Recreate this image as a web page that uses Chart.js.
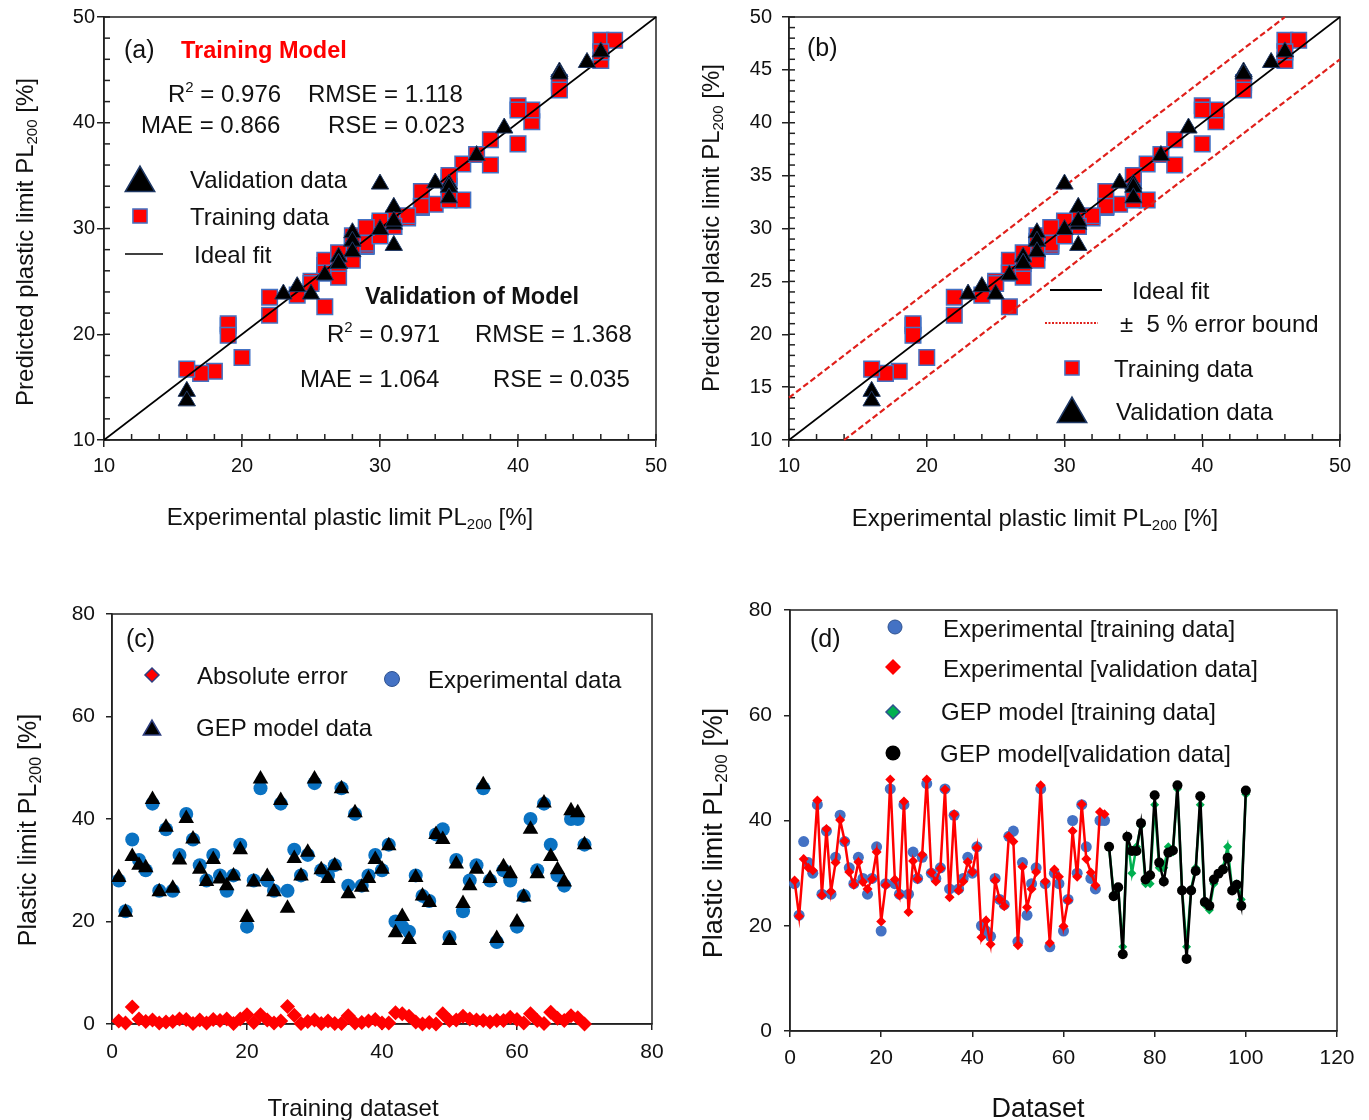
<!DOCTYPE html>
<html>
<head>
<meta charset="utf-8">
<title>Plastic limit PL200 – GEP model</title>
<script src="https://cdn.jsdelivr.net/npm/chart.js@4.4.1/dist/chart.umd.min.js"></script>
<style>
  html, body { margin: 0; padding: 0; background: #fff; }
  #wrap { position: relative; width: 1369px; height: 1120px; overflow: hidden; }
  #wrap canvas { position: absolute; left: 0; top: 0; }
</style>
</head>
<body>
<div id="wrap">
  <canvas id="panelA" width="1369" height="1120"></canvas>
  <canvas id="panelB" width="1369" height="1120"></canvas>
  <canvas id="panelC" width="1369" height="1120"></canvas>
  <canvas id="panelD" width="1369" height="1120"></canvas>
</div>
<script>
// ---- Data: plastic limit PL200 [%] ----
// Training samples 1–70: experimental value and GEP prediction
const trainExp = [28, 22, 36, 32, 30, 43, 26, 38, 26, 33,
                  41, 36, 31, 28, 33, 29, 26, 29, 35, 19,
                  28, 46, 28, 26, 43, 26, 34, 29, 33, 47,
                  30, 29, 31, 46, 27, 41, 27, 29, 33, 30,
                  35, 20, 19, 18, 29, 25, 24, 37, 38, 17,
                  32, 22, 28, 31, 46, 28, 16, 30, 28, 19,
                  25, 40, 30, 43, 35, 29, 27, 40, 40, 35];
const trainGep = [28.6, 21.8, 32.7, 31.0, 30.5, 43.8, 25.8, 38.4, 26.5, 32.0,
                  40.1, 36.1, 30.2, 27.8, 32.1, 28.3, 27.0, 28.9, 34.0, 20.8,
                  27.7, 47.8, 28.8, 25.8, 43.6, 22.6, 32.3, 28.9, 33.5, 47.8,
                  30.1, 28.4, 30.9, 45.9, 25.4, 41.2, 26.7, 28.4, 32.1, 30.2,
                  34.8, 17.8, 21.0, 16.5, 28.6, 25.0, 23.7, 37.0, 36.0, 16.3,
                  31.2, 23.5, 27.0, 30.2, 46.7, 28.4, 16.7, 30.7, 29.3, 19.9,
                  24.8, 38.0, 29.3, 43.1, 32.7, 30.1, 27.7, 41.6, 41.2, 35.0];
const trainAbsErr = [0.6, 0.2, 3.3, 1.0, 0.5, 0.8, 0.2, 0.4, 0.5, 1.0,
                     0.9, 0.1, 0.8, 0.2, 0.9, 0.7, 1.0, 0.1, 1.0, 1.8,
                     0.3, 1.8, 0.8, 0.2, 0.6, 3.4, 1.7, 0.1, 0.5, 0.8,
                     0.1, 0.6, 0.1, 0.1, 1.6, 0.2, 0.3, 0.6, 0.9, 0.2,
                     0.2, 2.2, 2.0, 1.5, 0.4, 0.0, 0.3, 0.0, 2.0, 0.7,
                     0.8, 1.5, 1.0, 0.8, 0.7, 0.4, 0.7, 0.7, 1.3, 0.9,
                     0.2, 2.0, 0.7, 0.1, 2.3, 1.1, 0.7, 1.6, 1.2, 0.0];
// Validation samples 71–100
const validExp = [26, 27, 16, 37, 30, 35, 39, 28, 28, 43,
                  31, 31, 35, 34, 46, 27, 16, 27, 31, 43,
                  24, 23, 28, 30, 31, 35, 27, 28, 25, 45];
const validGep = [25.6, 27.3, 14.6, 36.9, 34.2, 34.2, 39.5, 28.8, 29.6, 44.8,
                  32.0, 28.4, 33.9, 34.3, 46.7, 26.7, 13.7, 26.7, 30.4, 44.6,
                  24.5, 23.8, 28.8, 29.9, 30.7, 32.9, 26.7, 27.8, 23.8, 45.7];
// Reference lines (data units): ideal fit y = x, error band offset
const fitRange = [10, 50];
const bandOffset = 4;
// Axis ranges / tick steps
const axisAB = { min: 10, max: 50 };
const axisC = { xMax: 80, yMax: 80, step: 20 };
const axisD = { xMax: 120, yMax: 80, step: 20 };

// ---- Helpers ----
const FONT = '"Liberation Sans", Arial, Helvetica, sans-serif';
Chart.defaults.font.family = FONT;
Chart.defaults.color = '#111';

const pts = (xs, ys) => xs.map((x, i) => ({ x: x, y: ys[i] }));
const seq = (from, n) => Array.from({ length: n }, (_, i) => from + i);

const trainPts = pts(trainExp, trainGep);
const validPts = pts(validExp, validGep);
const fitPts = pts(fitRange, fitRange);
const upperBand = pts([fitRange[0], fitRange[1] - bandOffset], [fitRange[0] + bandOffset, fitRange[1]]);
const lowerBand = pts([fitRange[0] + bandOffset, fitRange[1]], [fitRange[0], fitRange[1] - bandOffset]);

function drawMarker(ctx, m) {
  const x = m.x, y = m.y, r = m.r;
  ctx.save();
  ctx.beginPath();
  if (m.style === 'circle') {
    ctx.arc(x, y, r, 0, Math.PI * 2);
  } else if (m.style === 'rect') {
    const s = r * Math.SQRT1_2;
    ctx.rect(x - s, y - s, 2 * s, 2 * s);
  } else if (m.style === 'triangle') {
    const a = 2 * Math.PI / 3;
    ctx.moveTo(x, y - r);
    ctx.lineTo(x + Math.sin(a) * r, y - Math.cos(a) * r);
    ctx.lineTo(x + Math.sin(2 * a) * r, y - Math.cos(2 * a) * r);
    ctx.closePath();
  } else if (m.style === 'rectRot') {
    ctx.moveTo(x, y - r); ctx.lineTo(x + r, y); ctx.lineTo(x, y + r); ctx.lineTo(x - r, y);
    ctx.closePath();
  } else if (m.style === 'line') {
    ctx.moveTo(m.x, y); ctx.lineTo(m.x2, y);
  }
  if (m.fill && m.style !== 'line') { ctx.fillStyle = m.fill; ctx.fill(); }
  if (m.stroke) {
    ctx.strokeStyle = m.stroke;
    ctx.lineWidth = m.lw || 1;
    if (m.dash) ctx.setLineDash(m.dash);
    ctx.stroke();
  }
  ctx.restore();
}

// parts: [[text, 'sub'|'sup'|undefined], ...]
function drawRich(ctx, t) {
  const size = t.size || 24;
  const weight = t.bold ? 'bold ' : '';
  const fontFor = k => weight + (k ? Math.round(size * 0.64) : size) + 'px ' + FONT;
  ctx.save();
  ctx.translate(t.x, t.y);
  if (t.rotate) ctx.rotate(t.rotate);
  let total = 0;
  const widths = t.parts.map(p => { ctx.font = fontFor(p[1]); const w = ctx.measureText(p[0]).width; total += w; return w; });
  let cx = t.align === 'center' ? -total / 2 : 0;
  const base = size * 0.358;
  ctx.fillStyle = t.color || '#111';
  ctx.textBaseline = 'alphabetic';
  ctx.textAlign = 'left';
  t.parts.forEach((p, i) => {
    ctx.font = fontFor(p[1]);
    let dy = base;
    if (p[1] === 'sub') dy = base + size * 0.2;
    if (p[1] === 'sup') dy = base - size * 0.38;
    ctx.fillText(p[0], cx, dy);
    cx += widths[i];
  });
  ctx.restore();
}

// Frame, inward minor ticks, legends and annotation text for one panel
function decor(cfg) {
  return {
    id: 'decor',
    beforeDatasetsDraw(chart) {
      const { ctx, chartArea: a, scales } = chart;
      ctx.save();
      ctx.strokeStyle = '#222';
      ctx.lineWidth = 1.5;
      ctx.strokeRect(a.left, a.top, a.right - a.left, a.bottom - a.top);
      (cfg.minor || []).forEach(m => {
        const s = scales[m.axis];
        for (let v = s.min; v <= s.max + 1e-9; v += m.step) {
          const p = s.getPixelForValue(v);
          ctx.beginPath();
          if (m.axis === 'x') { ctx.moveTo(p, a.bottom); ctx.lineTo(p, a.bottom - m.len); }
          else { ctx.moveTo(a.left, p); ctx.lineTo(a.left + m.len, p); }
          ctx.stroke();
        }
      });
      ctx.restore();
    },
    afterDraw(chart) {
      const ctx = chart.ctx;
      (cfg.markers || []).forEach(m => drawMarker(ctx, m));
      (cfg.texts || []).forEach(t => drawRich(ctx, t));
    }
  };
}

function axis(a, dir) {
  return {
    type: 'linear', min: a.min, max: a.max,
    ticks: { stepSize: a.step, autoSkip: false, maxRotation: 0, font: { size: a.font }, color: '#111', padding: a.pad },
    grid: { drawOnChartArea: false, drawTicks: true, tickLength: a.tick, color: '#222', lineWidth: 1.5 },
    border: { display: true, color: '#222', width: 1.5 },
    afterFit(s) {
      if (dir === 'x') {
        s.height = a.size;
      } else {
        s.width = a.size;
        // keep the end labels from pushing the plot area inward
        s.paddingTop = Math.min(s.paddingTop, 12);
        s.paddingBottom = Math.min(s.paddingBottom, 12);
      }
    }
  };
}

function panel(id, cfg) {
  return new Chart(document.getElementById(id), {
    type: 'scatter',
    data: { datasets: cfg.datasets },
    options: {
      responsive: false,
      animation: false,
      events: [],
      layout: { padding: cfg.padding },
      plugins: { legend: { display: false }, tooltip: { enabled: false } },
      scales: { x: axis(cfg.x, 'x'), y: axis(cfg.y, 'y') }
    },
    plugins: [decor(cfg)]
  });
}

const RED = '#FF0000', EDGE = '#4472C4', NAVY = '#1F3864';
const PL_X = [['Experimental plastic limit PL'], ['200', 'sub'], [' [%]']];
const PL_Y = [['Predicted plastic limit PL'], ['200', 'sub'], [' [%]']];
const PL_S = [['Plastic limit PL'], ['200', 'sub'], [' [%]']];
const UP = -Math.PI / 2;

function scatterSets() {
  return [
    { label: 'Validation data', data: validPts, pointStyle: 'triangle', pointRadius: 10, backgroundColor: '#000', borderColor: NAVY, borderWidth: 1, clip: false },
    { label: 'Ideal fit', data: fitPts, showLine: true, borderColor: '#000', borderWidth: 1.6, pointRadius: 0, clip: false },
    { label: 'Training data', data: trainPts, pointStyle: 'rect', pointRadius: 11, backgroundColor: RED, borderColor: EDGE, borderWidth: 1.5, clip: false }
  ];
}

// ---- (a) training / validation statistics ----
panel('panelA', {
  padding: { left: 0, top: 17, right: 1369 - 656, bottom: 1120 - 440 - 40 },
  x: { min: axisAB.min, max: axisAB.max, step: 10, font: 20, pad: 7, tick: 7, size: 40 },
  y: { min: axisAB.min, max: axisAB.max, step: 10, font: 20, pad: 2, tick: 7, size: 104 },
  minor: [{ axis: 'x', step: 2, len: 6 }, { axis: 'y', step: 2, len: 6 }],
  datasets: scatterSets(),
  markers: [
    { style: 'triangle', x: 140, y: 183, r: 17, fill: '#000', stroke: NAVY, lw: 1.5 },
    { style: 'rect', x: 140, y: 216, r: 10, fill: RED, stroke: EDGE, lw: 1.5 },
    { style: 'line', x: 125, x2: 163, y: 254, stroke: '#000', lw: 1.6 }
  ],
  texts: [
    { parts: [['(a)']], x: 124, y: 49, size: 25 },
    { parts: [['Training Model']], x: 181, y: 50, size: 23.5, bold: true, color: RED },
    { parts: [['R'], ['2', 'sup'], [' = 0.976']], x: 168, y: 93 },
    { parts: [['RMSE = 1.118']], x: 308, y: 93 },
    { parts: [['MAE = 0.866']], x: 141, y: 124 },
    { parts: [['RSE = 0.023']], x: 328, y: 124 },
    { parts: [['Validation data']], x: 190, y: 179 },
    { parts: [['Training data']], x: 190, y: 216 },
    { parts: [['Ideal fit']], x: 194, y: 254 },
    { parts: [['Validation of Model']], x: 365, y: 296, size: 23.5, bold: true },
    { parts: [['R'], ['2', 'sup'], [' = 0.971']], x: 327, y: 333 },
    { parts: [['RMSE = 1.368']], x: 475, y: 333 },
    { parts: [['MAE = 1.064']], x: 300, y: 378 },
    { parts: [['RSE = 0.035']], x: 493, y: 378 },
    { parts: PL_X, x: 350, y: 516, size: 24, align: 'center' },
    { parts: PL_Y, x: 24, y: 242, size: 24, align: 'center', rotate: UP }
  ]
});

// ---- (b) error band ----
const setsB = scatterSets();
setsB.splice(2, 0,
  { label: 'upper bound', data: upperBand, showLine: true, borderColor: '#E0201B', borderWidth: 2.2, borderDash: [6, 3], pointRadius: 0, clip: false },
  { label: 'lower bound', data: lowerBand, showLine: true, borderColor: '#E0201B', borderWidth: 2.2, borderDash: [6, 3], pointRadius: 0, clip: false }
);
panel('panelB', {
  padding: { left: 789 - 60, top: 17, right: 1369 - 1340, bottom: 1120 - 440 - 40 },
  x: { min: axisAB.min, max: axisAB.max, step: 10, font: 20, pad: 7, tick: 7, size: 40 },
  y: { min: axisAB.min, max: axisAB.max, step: 5, font: 20, pad: 10, tick: 7, size: 60 },
  minor: [{ axis: 'x', step: 2, len: 6 }, { axis: 'y', step: 1, len: 6 }],
  datasets: setsB,
  markers: [
    { style: 'line', x: 1050, x2: 1102, y: 290, stroke: '#000', lw: 1.8 },
    { style: 'line', x: 1045, x2: 1098, y: 323, stroke: '#E0201B', lw: 2, dash: [2, 1.5] },
    { style: 'rect', x: 1072, y: 368, r: 10, fill: RED, stroke: EDGE, lw: 1.5 },
    { style: 'triangle', x: 1072, y: 414, r: 17, fill: '#000', stroke: NAVY, lw: 1.5 }
  ],
  texts: [
    { parts: [['(b)']], x: 807, y: 47, size: 25 },
    { parts: [['Ideal fit']], x: 1132, y: 290 },
    { parts: [['±  5 % error bound']], x: 1120, y: 323 },
    { parts: [['Training data']], x: 1114, y: 368 },
    { parts: [['Validation data']], x: 1116, y: 411 },
    { parts: PL_X, x: 1035, y: 517, size: 24, align: 'center' },
    { parts: PL_Y, x: 710, y: 228, size: 24, align: 'center', rotate: UP }
  ]
});

// ---- (c) training samples and absolute error ----
const idxTrain = seq(1, trainExp.length);
panel('panelC', {
  padding: { left: 112 - 60, top: 614, right: 1369 - 652, bottom: 1120 - 1024 - 40 },
  x: { min: 0, max: axisC.xMax, step: axisC.step, font: 21, pad: 10, tick: 6, size: 40 },
  y: { min: 0, max: axisC.yMax, step: axisC.step, font: 21, pad: 11, tick: 6, size: 60 },
  datasets: [
    { label: 'Absolute error', data: pts(idxTrain, trainAbsErr), pointStyle: 'rectRot', pointRadius: 7.5, backgroundColor: RED, borderColor: RED, borderWidth: 0, clip: false },
    { label: 'GEP model data', data: pts(idxTrain, trainGep), pointStyle: 'triangle', pointRadius: 9, backgroundColor: '#000', borderColor: '#000', borderWidth: 0, clip: false },
    { label: 'Experimental data', data: pts(idxTrain, trainExp), pointStyle: 'circle', pointRadius: 7, backgroundColor: '#0A72C2', borderColor: '#0A72C2', borderWidth: 0, clip: false }
  ],
  markers: [
    { style: 'rectRot', x: 152, y: 675, r: 7, fill: RED, stroke: '#2F3F80', lw: 1.5 },
    { style: 'circle', x: 392, y: 679, r: 7.5, fill: '#4472C4', stroke: '#2F528F', lw: 1 },
    { style: 'triangle', x: 152, y: 730, r: 10, fill: '#000', stroke: '#2F3F80', lw: 1.5 }
  ],
  texts: [
    { parts: [['(c)']], x: 126, y: 638, size: 25 },
    { parts: [['Absolute error']], x: 197, y: 675 },
    { parts: [['Experimental data']], x: 428, y: 679 },
    { parts: [['GEP model data']], x: 196, y: 727 },
    { parts: [['Training dataset']], x: 353, y: 1107, size: 24, align: 'center' },
    { parts: PL_S, x: 27, y: 830, size: 25, align: 'center', rotate: UP }
  ]
});

// ---- (d) full dataset sequence ----
const nTrainD = trainExp.length - 1;
const idxD1 = seq(1, nTrainD);
const idxD2 = seq(nTrainD + 1, validExp.length + 1);
const expD2 = [trainExp[nTrainD]].concat(validExp);
const gepD2 = [trainGep[nTrainD]].concat(validGep);
panel('panelD', {
  padding: { left: 790 - 60, top: 610, right: 1369 - 1337, bottom: 1120 - 1031 - 40 },
  x: { min: 0, max: axisD.xMax, step: axisD.step, font: 21, pad: 9, tick: 6, size: 40 },
  y: { min: 0, max: axisD.yMax, step: axisD.step, font: 21, pad: 12, tick: 6, size: 60 },
  datasets: [
    { label: 'GEP model[validation data]', data: pts(idxD2, gepD2), showLine: true, borderColor: '#000', borderWidth: 2.5, pointStyle: 'circle', pointRadius: 5, pointBackgroundColor: '#000', pointBorderWidth: 0, clip: false },
    { label: 'GEP model [training data]', data: pts(idxD2, expD2), showLine: true, borderColor: '#00B050', borderWidth: 2.5, pointStyle: 'rectRot', pointRadius: 4.5, pointBackgroundColor: '#00B050', pointBorderWidth: 0, clip: false },
    { label: 'Experimental [validation data]', data: pts(idxD1, trainGep.slice(0, nTrainD)), showLine: true, borderColor: RED, borderWidth: 2.5, pointStyle: 'rectRot', pointRadius: 5, pointBackgroundColor: RED, pointBorderWidth: 0, clip: false },
    { label: 'Experimental [training data]', data: pts(idxD1, trainExp.slice(0, nTrainD)), pointStyle: 'circle', pointRadius: 5.5, backgroundColor: '#4472C4', borderColor: '#4472C4', borderWidth: 0, clip: false }
  ],
  markers: [
    { style: 'circle', x: 895, y: 627, r: 7, fill: '#4472C4', stroke: '#2F528F', lw: 1 },
    { style: 'rectRot', x: 893, y: 667, r: 8, fill: RED },
    { style: 'rectRot', x: 893, y: 712, r: 7, fill: '#00B050', stroke: '#2F528F', lw: 1.5 },
    { style: 'circle', x: 893, y: 753, r: 7.5, fill: '#000' }
  ],
  texts: [
    { parts: [['(d)']], x: 810, y: 638, size: 25 },
    { parts: [['Experimental [training data]']], x: 943, y: 628 },
    { parts: [['Experimental [validation data]']], x: 943, y: 668 },
    { parts: [['GEP model [training data]']], x: 941, y: 711 },
    { parts: [['GEP model[validation data]']], x: 940, y: 753 },
    { parts: [['Dataset']], x: 1038, y: 1107, size: 27, align: 'center' },
    { parts: PL_S, x: 712, y: 833, size: 27, align: 'center', rotate: UP }
  ]
});
</script>
</body>
</html>
